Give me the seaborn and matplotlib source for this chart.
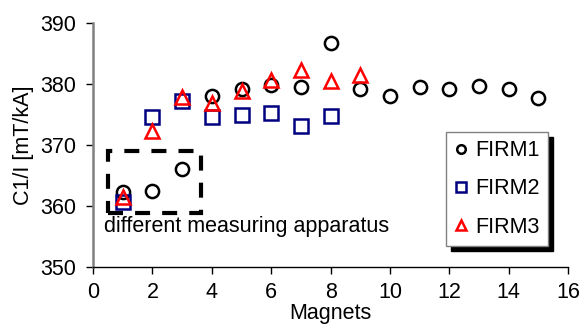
import seaborn as sns
from matplotlib import pyplot as plt
from matplotlib.patches import Rectangle
import pandas as pd

# values
firm1_x = [1, 2, 3, 4, 5, 6, 7, 8, 9, 10, 11, 12, 13, 14, 15]
firm1_y = [362.3, 362.5, 366.0, 378.1, 379.2, 379.8, 379.5, 386.8, 379.2,
           378.0, 379.5, 379.2, 379.7, 379.2, 377.7]
firm2_x = [1, 2, 3, 4, 5, 6, 7, 8]
firm2_y = [360.7, 374.6, 377.2, 374.6, 374.9, 375.2, 373.1, 374.7]
firm3_x = [1, 2, 3, 4, 5, 6, 7, 8, 9]
firm3_y = [361.5, 372.3, 377.8, 376.9, 378.8, 380.7, 382.3, 380.5, 381.5]

# box around the points from the other apparatus
box_x0, box_x1 = 0.49, 3.63
box_y0, box_y1 = 358.8, 369.1

sns.set_style("white")
plt.rcParams['font.family'] = ['Liberation Sans', 'DejaVu Sans']
plt.rcParams['font.size'] = 15.5
plt.rcParams['text.color'] = 'black'
plt.rcParams['axes.labelcolor'] = 'black'
plt.rcParams['xtick.color'] = 'black'
plt.rcParams['ytick.color'] = 'black'

fig = plt.figure(figsize=(5.82, 3.35), dpi=100)
ax = fig.add_axes([0.160, 0.203, 0.816, 0.728])

series = [
    ("FIRM1", firm1_x, firm1_y, "o", "black", 9.5),
    ("FIRM2", firm2_x, firm2_y, "s", "#000080", 10),
    ("FIRM3", firm3_x, firm3_y, "^", "red", 10.5),
]
for name, xs, ys, mk, col, ms in series:
    df = pd.DataFrame({"Magnets": xs, "C1": ys})
    sns.lineplot(x="Magnets", y="C1", data=df, ax=ax, errorbar=None,
                 linestyle="", marker=mk, markersize=ms, markerfacecolor="none",
                 markeredgecolor=col, markeredgewidth=1.8, color=col, label=name)

ax.add_patch(Rectangle((box_x0, box_y0), box_x1 - box_x0, box_y1 - box_y0,
                       fill=False, edgecolor="black", linewidth=3,
                       linestyle=(0, (3.6, 2.9)), zorder=1))
ax.text(0.37, 355.7, "different measuring apparatus", fontsize=15.5, va="baseline")

ax.set_xlim(0, 16)
ax.set_ylim(350, 390)
ax.set_xticks(range(0, 17, 2))
ax.set_yticks(range(350, 391, 10))
ax.set_xlabel("Magnets", fontsize=15.5, labelpad=0)
ax.set_ylabel("C1/I [mT/kA]", fontsize=15.5, labelpad=5)

for s in ["top", "right"]:
    ax.spines[s].set_visible(False)
ax.spines["left"].set_color("#808080")
ax.spines["left"].set_linewidth(1.8)
ax.spines["bottom"].set_color("black")
ax.spines["bottom"].set_linewidth(1.0)
ax.tick_params(axis="x", direction="out", length=5, width=1,
               pad=6, bottom=True, labelsize=15.5)
ax.tick_params(axis="y", direction="out", length=5, width=1,
               pad=7, left=True, labelsize=15.5)

# legend with a solid black drop shadow, like the original
leg = ax.legend(loc="upper left", bbox_to_anchor=(0.743, 0.555),
                fontsize=15.5, frameon=True, fancybox=False, markerscale=0.65,
                handlelength=0.6, handletextpad=0.35, labelspacing=0.8,
                borderpad=0.4, borderaxespad=0, edgecolor="#808080",
                facecolor="white", framealpha=1,
                shadow={"ox": 3.6, "oy": -3.6, "facecolor": "black",
                        "edgecolor": "black", "alpha": 1})
leg.get_frame().set_linewidth(1.0)
leg.set_zorder(10)

plt.savefig("out.png", dpi=100)
